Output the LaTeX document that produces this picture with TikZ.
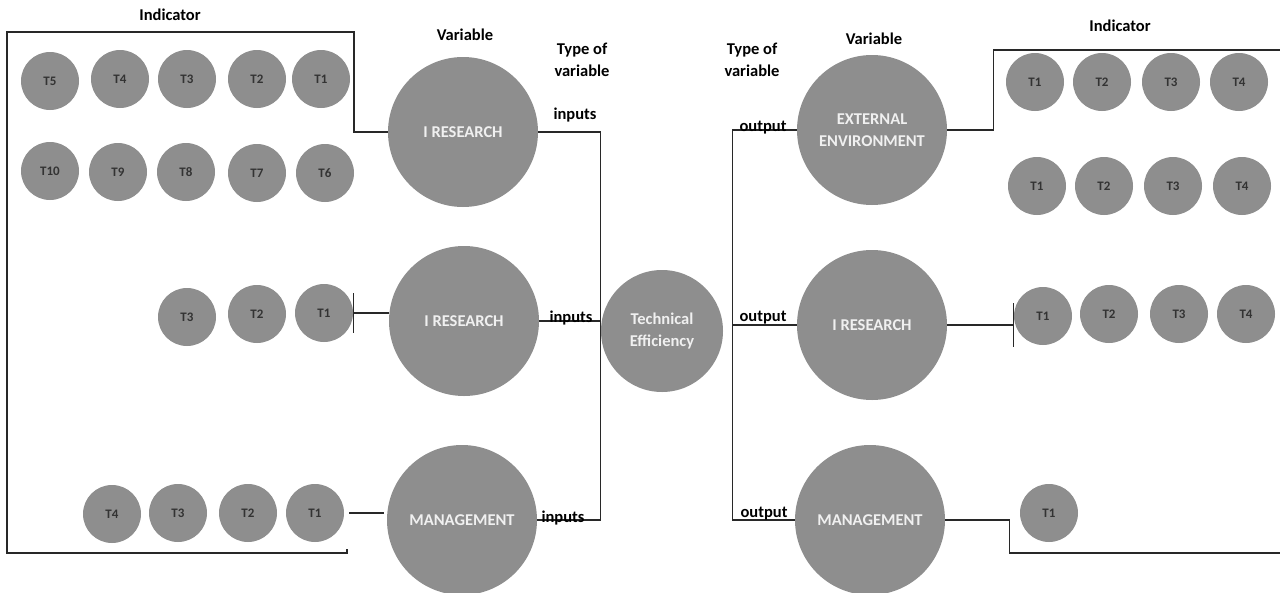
\documentclass[tikz,border=0pt]{standalone}
\usepackage{fontspec}
\setmainfont{Carlito}
\usetikzlibrary{calc}
\definecolor{bulle}{RGB}{142,142,142}
\definecolor{trait}{RGB}{40,40,40}

\begin{document}
\begin{tikzpicture}[x=1pt, y=-1pt,
    var/.style={circle, fill=bulle, minimum size=150pt, inner sep=0pt, align=center,
                text=white!94!black, font=\fontsize{16.5}{22}\selectfont\bfseries},
    ind/.style={circle, fill=bulle, minimum size=58pt, inner sep=0pt,
                text=black!80, font=\fontsize{13}{15}\selectfont\bfseries},
    lab/.style={align=center, font=\fontsize{16.5}{22}\selectfont\bfseries},
    lien/.style={line width=1.3pt, trait}]

    % Cadre de la page
    \useasboundingbox (0,0) rectangle (1280,592);

    % Titres de colonnes
    \node[lab] (indG) at (170,15) {Indicator};
    \node[lab] (varG) at (465,35) {Variable};
    \node[lab] (typG) at (582,60) {Type of\\variable};
    \node[lab] (typD) at (752,60) {Type of\\variable};
    \node[lab] (varD) at (874,39) {Variable};
    \node[lab] (indD) at (1120,26) {Indicator};

    % Variables (entrees)
    \node[var] (irA) at (463,132) {I RESEARCH};
    \node[var] (irB) at (464,321) {I RESEARCH};
    \node[var] (mgA) at (462,520) {MANAGEMENT};

    % Efficacite technique
    \node[var, minimum size=122pt] (te) at (662,331) {Technical\\Efficiency};

    % Variables (sorties)
    \node[var] (env) at (872,130) {EXTERNAL\\ENVIRONMENT};
    \node[var] (irC) at (872,325) {I RESEARCH};
    \node[var] (mgB) at (870,520) {MANAGEMENT};

    % Indicateurs a gauche
    \node[ind] (a5) at (50,81) {T5};
    \node[ind] (a4) at (120,79) {T4};
    \node[ind] (a3) at (187,79) {T3};
    \node[ind] (a2) at (257,79) {T2};
    \node[ind] (a1) at (321,79) {T1};
    \node[ind] (a10) at (50,171) {T10};
    \node[ind] (a9) at (118,172) {T9};
    \node[ind] (a8) at (186,172) {T8};
    \node[ind] (a7) at (257,173) {T7};
    \node[ind] (a6) at (325,173) {T6};

    \node[ind] (b3) at (187,317) {T3};
    \node[ind] (b2) at (257,314) {T2};
    \node[ind] (b1) at (324,313) {T1};

    \node[ind] (c4) at (112,514) {T4};
    \node[ind] (c3) at (178,513) {T3};
    \node[ind] (c2) at (248,513) {T2};
    \node[ind] (c1) at (315,513) {T1};

    % Indicateurs a droite
    \node[ind] (d1) at (1035,82) {T1};
    \node[ind] (d2) at (1102,82) {T2};
    \node[ind] (d3) at (1171,82) {T3};
    \node[ind] (d4) at (1239,82) {T4};
    \node[ind] (e1) at (1037,186) {T1};
    \node[ind] (e2) at (1104,186) {T2};
    \node[ind] (e3) at (1173,186) {T3};
    \node[ind] (e4) at (1242,186) {T4};

    \node[ind] (f1) at (1043,316) {T1};
    \node[ind] (f2) at (1109,314) {T2};
    \node[ind] (f3) at (1179,314) {T3};
    \node[ind] (f4) at (1246,314) {T4};

    \node[ind] (g1) at (1049,513) {T1};

    % Points libres des cadres
    \coordinate (cadreG) at (347,549);
    \coordinate (cadreD) at (1280,50);
    \coordinate (cadreDb) at (1280,553);
    \coordinate (busD) at ($(te.east)+(9,0)$);

    % Liaisons cote gauche
    \draw[lien] (cadreG) -- ++(0,4) -| (7,32) -- (354,32) |- (irA.west);
    \draw[lien] ($(b1.east)+(0,-20)$) -- ($(b1.east)+(0,20)$);
    \draw[lien] (b1.east) -- (b1.east -| irB.west);
    \draw[lien, shorten <=5pt, shorten >=3pt] (c1.east) -- (c1.east -| mgA.west);

    % Entrees vers l'efficacite
    \draw[lien] (irA.east) -| (te.west |- mgA.east) -- (mgA.east);
    \draw[lien] (irB.east) -- (irB.east -| te.west);
    \node[lab] (inA) at (575,115) {inputs};
    \node[lab] (inB) at (571,318) {inputs};
    \node[lab] (inC) at (563,518) {inputs};

    % Sorties
    \draw[lien] (env.west) -| (busD |- mgB.west) -- (mgB.west);
    \draw[lien] (irC.west) -- (irC.west -| busD);
    \node[lab] (outA) at (763,128) {output};
    \node[lab] (outB) at (763,318) {output};
    \node[lab] (outC) at (764,514) {output};

    % Liaisons cote droit
    \draw[lien] (env.east) -- ++(46,0) |- (cadreD);
    \draw[lien] (irC.east) -- (irC.east -| f1.west);
    \draw[lien] ($(f1.west |- irC.east)+(0,-22)$) -- ($(f1.west |- irC.east)+(0,22)$);
    \draw[lien] (mgB.east) -- ++(64,0) |- (cadreDb);

\end{tikzpicture}
\end{document}
